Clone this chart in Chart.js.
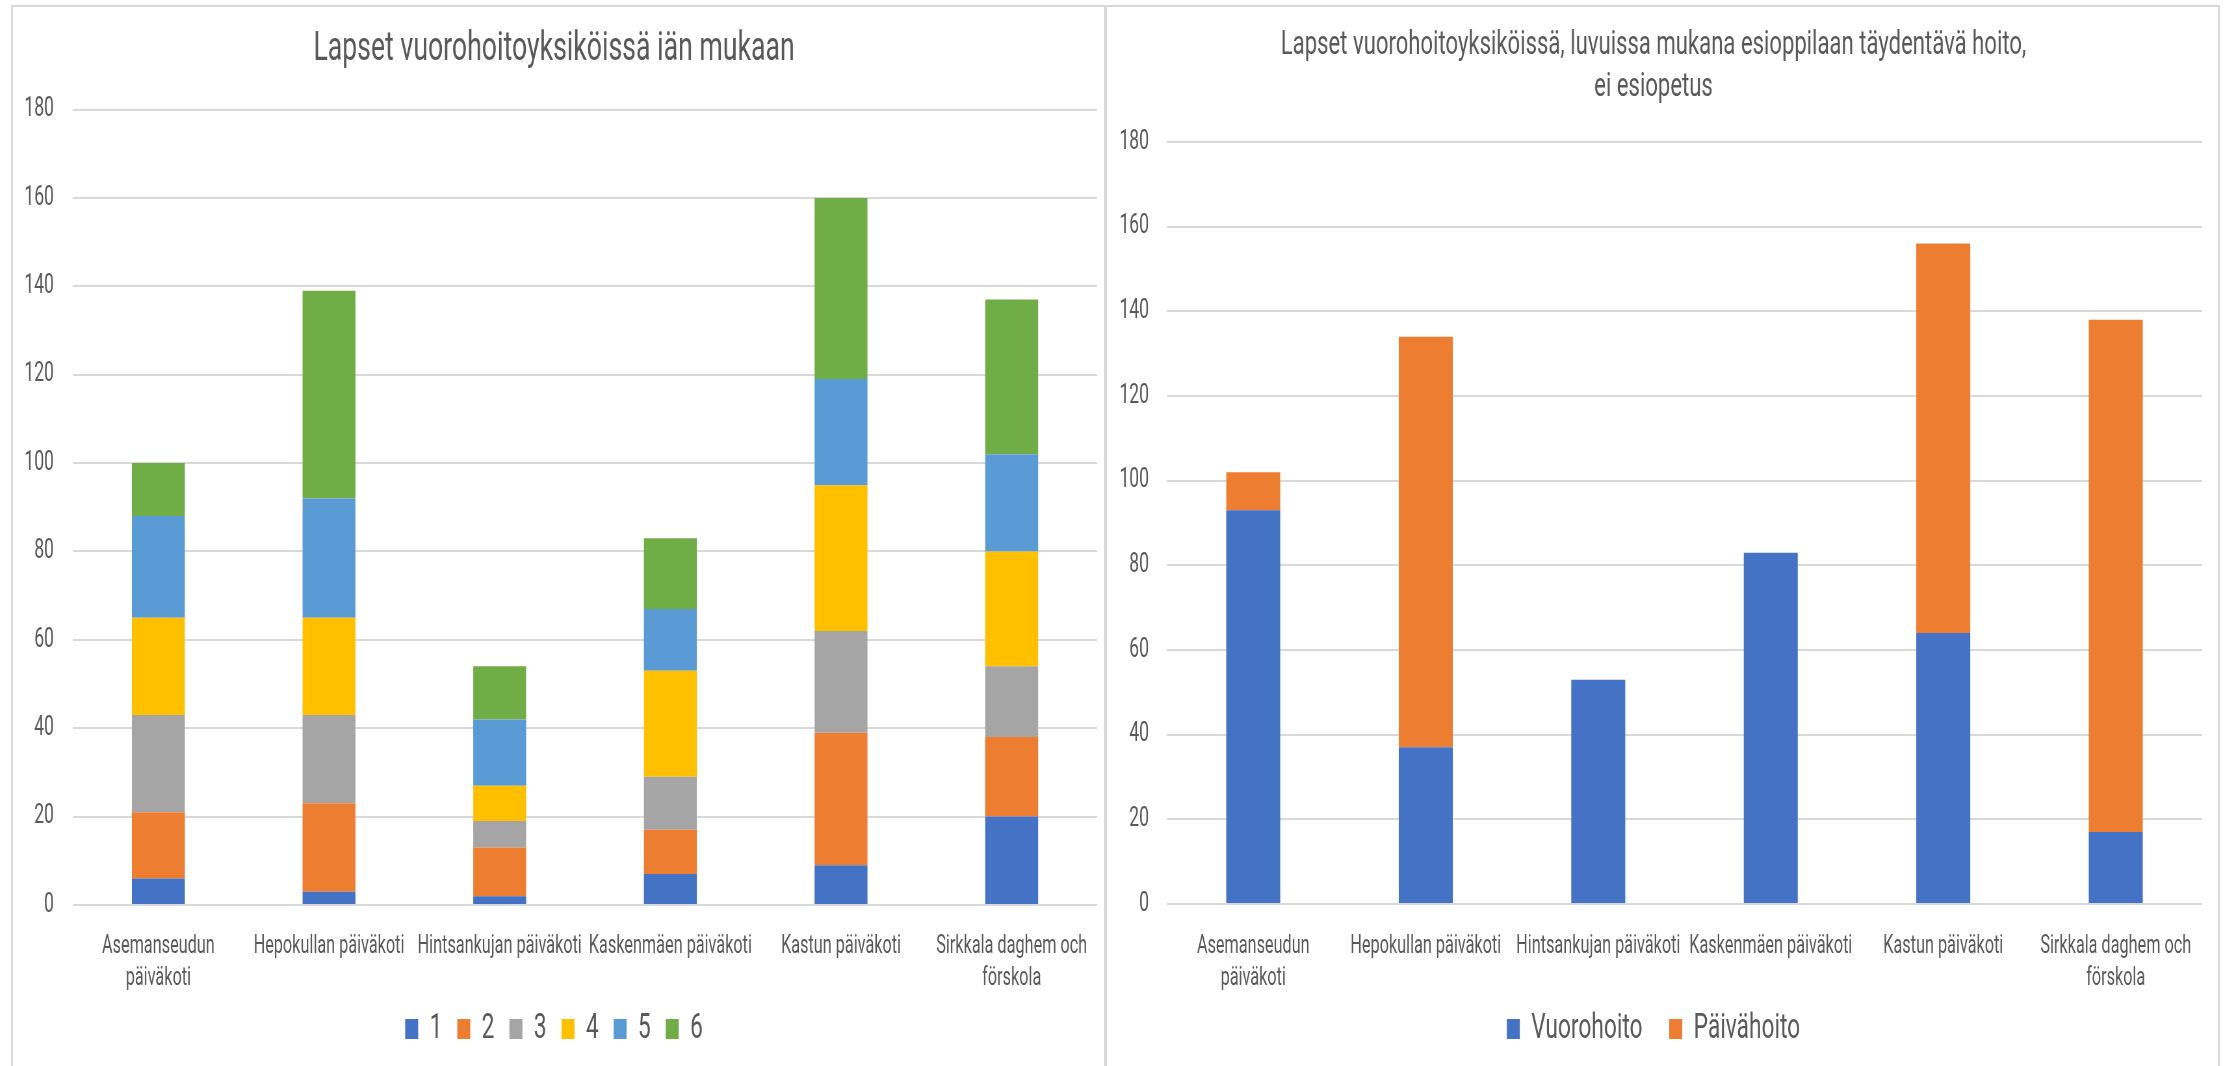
<!DOCTYPE html>
<html>
<head>
<meta charset="utf-8">
<script src="https://cdn.jsdelivr.net/npm/chart.js@4.4.1/dist/chart.umd.min.js"></script>
<style>
  html, body { margin: 0; padding: 0; background: #fff; }
  body { width: 2231px; height: 1066px; position: relative; overflow: hidden; }
  .frame { position: absolute; border: 2px solid #d9d9d9; box-sizing: border-box; }
  .holder { position: absolute; transform-origin: 0 0; }
</style>
</head>
<body>
<div class="frame" style="left:11px; top:5px; width:1096px; height:1080px;"></div>
<div class="frame" style="left:1104px; top:5px; width:1116px; height:1080px;"></div>
<div class="holder" id="leftHolder"><canvas id="ageChart"></canvas></div>
<div class="holder" id="rightHolder"><canvas id="careChart"></canvas></div>
<script>
// categories (units)
const units = [
  ['Asemanseudun', 'päiväkoti'],
  'Hepokullan päiväkoti',
  'Hintsankujan päiväkoti',
  'Kaskenmäen päiväkoti',
  'Kastun päiväkoti',
  ['Sirkkala daghem och', 'förskola']
];

// left chart: children by age
const ageNames = ['1', '2', '3', '4', '5', '6'];
const age1 = [6, 3, 2, 7, 9, 20];
const age2 = [15, 20, 11, 10, 30, 18];
const age3 = [22, 20, 6, 12, 23, 16];
const age4 = [22, 22, 8, 24, 33, 26];
const age5 = [23, 27, 15, 14, 24, 22];
const age6 = [12, 47, 12, 16, 41, 35];

// right chart: shift care vs day care
const careNames = ['Vuorohoito', 'Päivähoito'];
const vuorohoito = [93, 37, 53, 83, 64, 17];
const paivahoito = [9, 97, 0, 0, 92, 121];

// y axis
const yMin = 0;
const yMax = 180;
const yStep = 20;

const ageColors = ['#4472C4', '#ED7D31', '#A5A5A5', '#FFC000', '#5B9BD5', '#70AD47'];
const careColors = ['#4472C4', '#ED7D31'];

// the reference is squeezed horizontally, so draw wide and squeeze
const SQ = 0.65;

Chart.defaults.font.family = "Roboto, 'Liberation Sans', sans-serif";
Chart.defaults.color = '#595959';
Chart.defaults.animation = false;

// x labels are clipped to the axis box, let them run down to the legend
const labelRoom = {
  id: 'labelRoom',
  afterLayout(chart) {
    chart.scales.x.bottom = chart.height;
  }
};

function place(id, left, top, width, height) {
  const el = document.getElementById(id);
  el.style.left = left + 'px';
  el.style.top = top + 'px';
  el.style.width = (width / SQ) + 'px';
  el.style.height = height + 'px';
  el.style.transform = 'scaleX(' + SQ + ')';
}

function buildChart(canvasId, datasets, o) {
  return new Chart(document.getElementById(canvasId), {
    type: 'bar',
    data: { labels: units, datasets: datasets },
    plugins: [labelRoom],
    options: {
      responsive: true,
      maintainAspectRatio: false,
      layout: { padding: { top: 0, left: 0, right: o.padRight, bottom: 9.5 } },
      plugins: {
        title: {
          display: true,
          text: o.title,
          color: '#595959',
          font: { size: o.titleSize, weight: 'normal', lineHeight: o.titleLine },
          padding: { top: o.titleTop, bottom: o.titleBottom }
        },
        legend: {
          position: 'bottom',
          labels: {
            boxWidth: 20,
            boxHeight: 20,
            padding: o.legendPad,
            color: '#595959',
            font: { size: 35 }
          }
        },
        tooltip: { enabled: false }
      },
      scales: {
        x: {
          stacked: true,
          grid: { display: false },
          border: { display: false },
          ticks: {
            autoSkip: false,
            maxRotation: 0,
            minRotation: 0,
            padding: o.xPad,
            color: '#595959',
            font: { size: 25, lineHeight: 1.28 }
          },
          afterFit: function(scale) { scale.height = o.xHeight; }
        },
        y: {
          stacked: true,
          min: yMin,
          max: yMax,
          grid: { color: '#d9d9d9', lineWidth: 2, drawTicks: false },
          border: { display: false },
          ticks: {
            stepSize: yStep,
            padding: o.yPad,
            color: '#595959',
            font: { size: 27 }
          },
          afterFit: function(scale) { scale.width = o.yWidth; }
        }
      }
    }
  });
}

place('leftHolder', 11, 5, 1094, 1061);
place('rightHolder', 1105, 5, 1113, 1061);

const ageSeries = [age1, age2, age3, age4, age5, age6];
buildChart('ageChart', ageSeries.map(function(vals, i) {
  return {
    label: ageNames[i],
    data: vals,
    backgroundColor: ageColors[i],
    barPercentage: 0.31,
    categoryPercentage: 1.0
  };
}), {
  title: 'Lapset vuorohoitoyksiköissä iän mukaan',
  titleSize: 41, titleLine: 1.2, titleTop: 20, titleBottom: 35.3,
  padRight: 12.3, yWidth: 95.4, yPad: 29.4,
  xPad: 18, xHeight: 83.5, legendPad: 23
});

const careSeries = [vuorohoito, paivahoito];
buildChart('careChart', careSeries.map(function(vals, i) {
  return {
    label: careNames[i],
    data: vals,
    backgroundColor: careColors[i],
    barPercentage: 0.313,
    categoryPercentage: 1.0
  };
}), {
  title: ['Lapset vuorohoitoyksiköissä, luvuissa mukana esioppilaan täydentävä hoito,', 'ei esiopetus'],
  titleSize: 34, titleLine: 1.253, titleTop: 18.7, titleBottom: 33.1,
  padRight: 24.6, yWidth: 95.4, yPad: 27.7,
  xPad: 19, xHeight: 66.5, legendPad: 41
});
</script>
</body>
</html>
